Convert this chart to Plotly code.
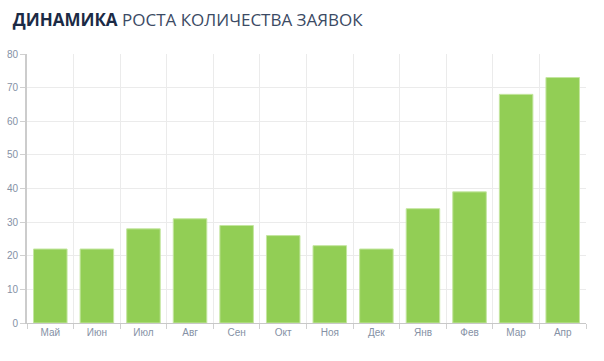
import plotly.graph_objects as go

months = ["Май", "Июн", "Июл", "Авг", "Сен", "Окт", "Ноя", "Дек", "Янв", "Фев", "Мар", "Апр"]
values = [22, 22, 28, 31, 29, 26, 23, 22, 34, 39, 68, 73]

fig = go.Figure(go.Bar(
    x=months, y=values,
    marker=dict(color="#92CE55", line=dict(color="#C4E6A0", width=1)),
    hoverinfo="x+y",
))

fig.update_layout(
    width=604, height=361,
    margin=dict(l=27, r=18, t=54, b=38, autoexpand=False),
    paper_bgcolor="white", plot_bgcolor="white",
    bargap=0.28,
    showlegend=False,
    title=dict(
        text="<b>ДИНАМИКА</b> <span style='color:#3b4a64'>РОСТА КОЛИЧЕСТВА ЗАЯВОК</span>",
        x=0.021, xanchor="left", y=0.945, yanchor="middle",
        font=dict(family="Open Sans", size=17, color="#1b2a45"),
    ),
    xaxis=dict(
        type="category", automargin=False,
        tickson="boundaries", ticks="outside", ticklen=5, tickcolor="#d0d0d0",
        showgrid=True, gridcolor="#ebebeb",
        showline=True, linecolor="#c8c8c8", linewidth=1,
        tickfont=dict(family="Liberation Sans", size=10, color="#8591a5"),
    ),
    yaxis=dict(
        range=[0, 80], dtick=10, automargin=False,
        ticks="outside", ticklen=5, tickcolor="#d0d0d0",
        showgrid=True, gridcolor="#ebebeb",
        showline=True, linecolor="#cccccc", linewidth=2,
        zeroline=False,
        tickfont=dict(family="Liberation Sans", size=10, color="#8591a5"),
    ),
)

fig.write_html("out.html", config={"displayModeBar": False},
               post_script="document.body.style.margin='0';")
